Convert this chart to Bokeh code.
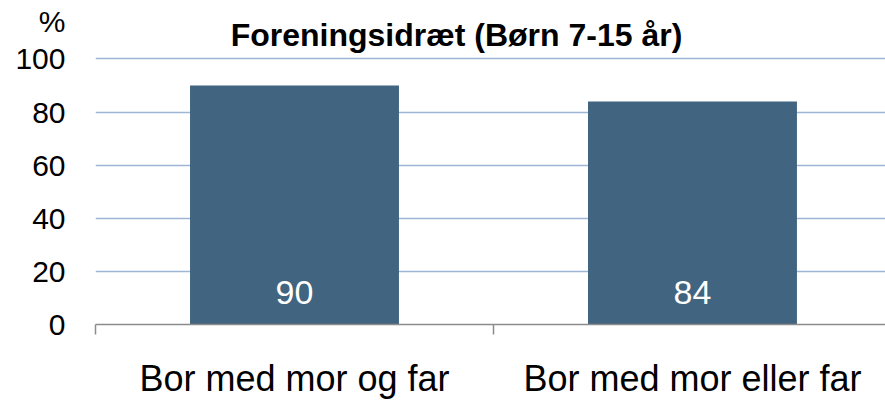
from bokeh.plotting import figure
from bokeh.models import (ColumnDataSource, Range1d, FixedTicker, LabelSet, Label)
from bokeh.core.properties import value
from bokeh.embed import file_html
from bokeh.resources import INLINE

# ---- data ----
categories = ["Bor med mor og far", "Bor med mor eller far"]
values = [90, 84]
y_ticks = [0, 20, 40, 60, 80, 100]
title_text = "Foreningsidræt (Børn 7-15 år)"
unit_text = "%"

# ---- layout / style constants ----
FONT = "Liberation Sans"
BAR_COLOR = "#416480"
GRID_COLOR = "#9DB6D6"
AXIS_COLOR = "#8C8C8C"
Y_TOP = 122          # frame reaches to top of the canvas (room for title)
UNIT_POS = 114       # vertical place of the "%" unit label, above 100
X_CUT = 0.015        # plot area runs slightly past the right edge of the page

n = len(categories)
centers = [i + 0.5 for i in range(n)]
source = ColumnDataSource(dict(
    x=centers,
    top=values,
    base=[0] * n,
    label=[str(v) for v in values],
))

p = figure(width=885, height=401, output_backend="svg", toolbar_location=None,
           title=None,
           x_range=Range1d(0, n - X_CUT), y_range=Range1d(0, Y_TOP),
           min_border_left=95, min_border_right=0, min_border_top=0,
           min_border_bottom=75, outline_line_color=None,
           background_fill_color="white", border_fill_color="white")

p.vbar(x="x", top="top", bottom="base", width=0.525, source=source,
       fill_color=BAR_COLOR, line_color=None)

labels = LabelSet(x="x", y="base", text="label", source=source,
                  y_offset=32, text_align="center", text_baseline="middle",
                  text_color="white", text_font=value(FONT),
                  text_font_size="34px")
p.add_layout(labels)

# x axis: category labels at centres, tick marks between categories
xa = p.xaxis[0]
xa.ticker = FixedTicker(ticks=centers, minor_ticks=list(range(n + 1)))
xa.major_label_overrides = {c: cat for c, cat in zip(centers, categories)}
xa.major_tick_line_color = None
xa.major_tick_out = 0
xa.major_tick_in = 0
xa.minor_tick_line_color = AXIS_COLOR
xa.minor_tick_line_width = 1.5
xa.minor_tick_out = 10
xa.minor_tick_in = 0
xa.axis_line_color = AXIS_COLOR
xa.axis_line_width = 1.5
xa.major_label_text_font = FONT
xa.major_label_text_font_size = "36px"
xa.major_label_text_color = "black"
xa.major_label_standoff = 23

# y axis (the "%" unit sits in the tick-label column above 100)
ya = p.yaxis[0]
ya.ticker = FixedTicker(ticks=y_ticks + [UNIT_POS])
ya.major_label_overrides = {UNIT_POS: unit_text}
ya.axis_line_color = None
ya.major_tick_line_color = None
ya.minor_tick_line_color = None
ya.major_tick_out = 0
ya.major_tick_in = 0
ya.major_label_standoff = 30
ya.major_label_text_font = FONT
ya.major_label_text_font_size = "30px"
ya.major_label_text_color = "black"

p.xgrid.grid_line_color = None
p.ygrid.ticker = FixedTicker(ticks=y_ticks)
p.ygrid.grid_line_color = GRID_COLOR
p.ygrid.grid_line_width = 1.5

# title (inside the frame's empty top band)
ttl = Label(x=361, y=290, x_units="screen", y_units="screen", text=title_text,
            text_align="center", text_baseline="alphabetic", text_font=FONT,
            text_font_size="32px", text_font_style="bold", text_color="black")
p.add_layout(ttl)

open("out.html", "w").write(file_html(p, INLINE))
